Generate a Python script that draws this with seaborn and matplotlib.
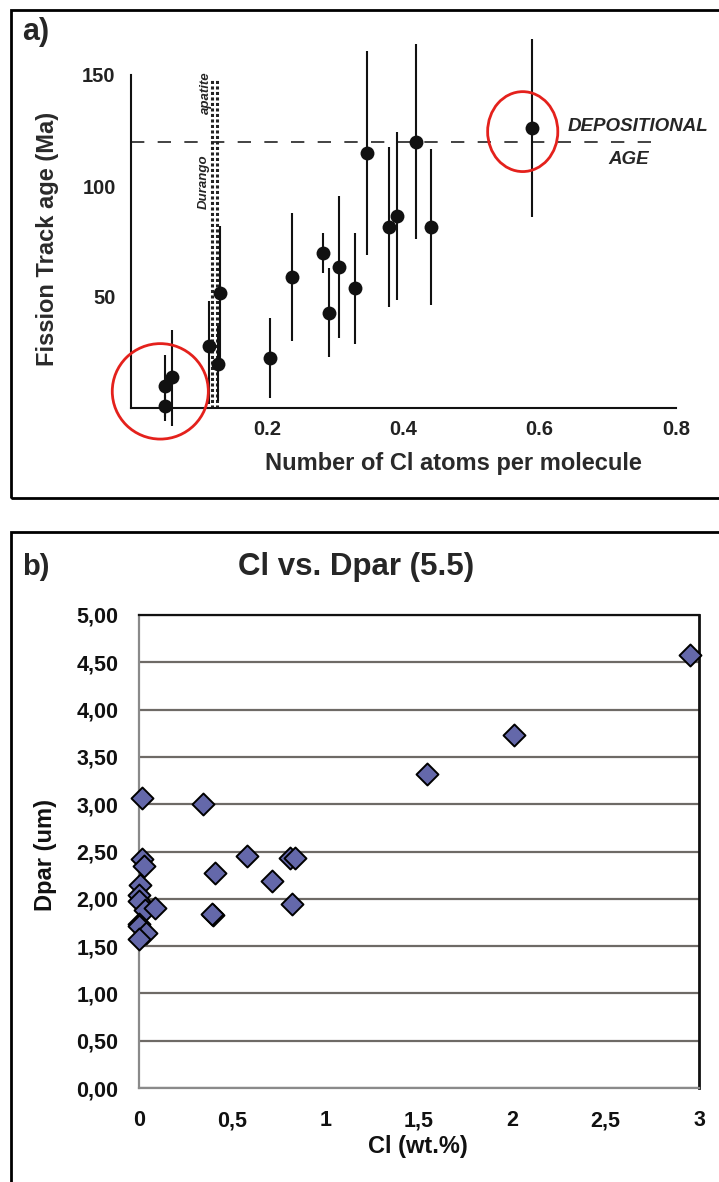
import numpy as np
import pandas as pd
import matplotlib
matplotlib.use("Agg")
import matplotlib.pyplot as plt
from matplotlib.patches import Ellipse, Rectangle
from matplotlib.ticker import FixedLocator, FuncFormatter
import seaborn as sns

# ---------------- data: panel a ----------------
cl_atoms = [0.050, 0.060, 0.050, 0.115, 0.131, 0.128, 0.204, 0.237, 0.282,
            0.290, 0.305, 0.329, 0.347, 0.378, 0.391, 0.419, 0.441, 0.588]
ft_age = [10, 14, 1, 28, 52, 20, 22.5, 59, 70,
          43, 63.5, 54, 115, 81.5, 86.5, 120, 81.5, 126]
age_err_low = [16, 22, 5, 26, 30, 17, 18, 29, 9,
               20, 32, 25, 46, 36, 38, 44, 35, 40]
age_err_high = [14, 21, 5, 20, 30, 17, 18, 29, 9,
                20, 32, 25, 46, 36, 38, 44, 35, 40]
depositional_age = 120
durango_cl = [0.119, 0.126]
a_xticks = [0.2, 0.4, 0.6, 0.8]
a_yticks = [50, 100, 150]

# ---------------- data: panel b ----------------
cl_wt = [0.014, 0.344, 0.014, 0.027, 0.407, 0.577, 0.809, 0.836, 0.711, 0.818,
         0.398, 0.389, 0.005, 0.002, 0.000, 0.032, 0.086, 0.000, 0.002, 0.037,
         0.000, 1.543, 2.009, 2.951]
dpar = [3.07, 3.00, 2.42, 2.35, 2.27, 2.45, 2.43, 2.43, 2.19, 1.95,
        1.83, 1.84, 2.15, 2.04, 1.98, 1.88, 1.90, 1.73, 1.71, 1.64,
        1.57, 3.32, 3.73, 4.58]
b_xticks = [0, 0.5, 1, 1.5, 2, 2.5, 3]
b_yticks = [0, 0.5, 1, 1.5, 2, 2.5, 3, 3.5, 4, 4.5, 5]

df_a = pd.DataFrame({"cl": cl_atoms, "age": ft_age})
df_b = pd.DataFrame({"cl": cl_wt, "dpar": dpar})

sns.set_style("white")
plt.rcParams["font.family"] = ["Liberation Sans", "DejaVu Sans"]

W, H = 719, 1182
fig = plt.figure(figsize=(W / 100, H / 100), dpi=100)

def fx(px):
    return px / W

def fy(py):
    return 1 - py / H

# panel frames
fig.patches.append(Rectangle((fx(11), fy(498)), fx(740) - fx(11), fy(10) - fy(498),
                             transform=fig.transFigure, fill=False, ec="black",
                             lw=2, zorder=0))
fig.patches.append(Rectangle((fx(11), fy(1200)), fx(740) - fx(11), fy(532) - fy(1200),
                             transform=fig.transFigure, fill=False, ec="black",
                             lw=2, zorder=0))

# ================= panel a =================
axA = fig.add_axes([fx(131), fy(408), (676 - 131) / W, (408 - 75) / H])
axA.set_xlim(0, 0.8)
axA.set_ylim(0, 150)
axA.errorbar(cl_atoms, ft_age, yerr=[age_err_low, age_err_high], fmt="none",
             ecolor="#111111", elinewidth=1.5, capsize=0, clip_on=False, zorder=2)
sns.scatterplot(data=df_a, x="cl", y="age", ax=axA, color="#111111", s=100,
                edgecolor="#111111", linewidth=0, clip_on=False, zorder=3, legend=False)
axA.plot([0, 0.775], [depositional_age, depositional_age], ls=(0, (8, 8)),
         color="#222222", lw=1.2, zorder=1)
axA.vlines(durango_cl, 0, 148, colors="#222222", linestyles=(0, (1, 0.8)), lw=2.2, zorder=1)
axA.text(0.107, 102, "Durango", rotation=90, ha="center", va="center",
         fontsize=9.5, fontstyle="italic", fontweight="bold")
axA.text(0.110, 142, "apatite", rotation=90, ha="center", va="center",
         fontsize=9.5, fontstyle="italic", fontweight="bold")
axA.text(0.744, 127, "DEPOSITIONAL", ha="center", va="center", fontsize=13.5,
         fontstyle="italic", fontweight="bold", clip_on=False)
axA.text(0.731, 112, "AGE", ha="center", va="center", fontsize=13.5,
         fontstyle="italic", fontweight="bold", clip_on=False)
axA.add_patch(Ellipse((0.043, 7.5), 0.141, 43, fill=False, ec="#E4211C", lw=2,
                      clip_on=False, zorder=4))
axA.add_patch(Ellipse((0.575, 124.5), 0.103, 36, fill=False, ec="#E4211C", lw=2,
                      clip_on=False, zorder=4))
for s in ["top", "right"]:
    axA.spines[s].set_visible(False)
for s in ["left", "bottom"]:
    axA.spines[s].set_color("#111111")
    axA.spines[s].set_linewidth(1.5)
axA.xaxis.set_major_locator(FixedLocator(a_xticks))
axA.xaxis.set_minor_locator(FixedLocator([0.1, 0.3, 0.5, 0.7]))
axA.yaxis.set_major_locator(FixedLocator(a_yticks))
axA.xaxis.set_major_formatter(FuncFormatter(lambda v, p: f"{v:.1f}"))
axA.yaxis.set_major_formatter(FuncFormatter(lambda v, p: f"{v:.0f}"))
axA.tick_params(axis="x", which="major", direction="in", length=12, width=1.4,
                labelsize=14.5, pad=9, colors="#222222")
axA.tick_params(axis="x", which="minor", direction="in", length=5, width=1.2,
                colors="#222222")
axA.tick_params(axis="y", which="major", direction="in", length=12, width=1.4,
                labelsize=14.5, pad=11, colors="#222222")
for lab in axA.get_xticklabels() + axA.get_yticklabels():
    lab.set_fontweight("bold")
axA.set_xlabel("Number of Cl atoms per molecule", fontsize=17, fontweight="bold",
               color="#2a2a2a")
axA.set_ylabel("Fission Track age (Ma)", fontsize=17, fontweight="bold",
               color="#2a2a2a")
axA.xaxis.set_label_coords((453 - 131) / 545, (408 - 464) / 333)
axA.xaxis.label.set_va("center")
axA.yaxis.set_label_coords((48 - 131) / 545, (408 - 239) / 333)
axA.yaxis.label.set_va("center")
axA.patch.set_alpha(0)
fig.text(fx(22), fy(32), "a)", fontsize=22, fontweight="bold", ha="left", va="center")

# ================= panel b =================
axB = fig.add_axes([fx(139), fy(1088), (699 - 139) / W, (1088 - 615) / H])
axB.set_xlim(0, 3)
axB.set_ylim(0, 5)
axB.set_axisbelow(True)
axB.yaxis.grid(True, color="#6e6a66", lw=1.6)
axB.xaxis.grid(False)
sns.scatterplot(data=df_b, x="cl", y="dpar", ax=axB, marker="D", s=125,
                color="#6468AA", edgecolor="black", linewidth=1.4,
                clip_on=False, zorder=3, legend=False)
axB.xaxis.set_major_locator(FixedLocator(b_xticks))
axB.yaxis.set_major_locator(FixedLocator(b_yticks))
axB.xaxis.set_major_formatter(FuncFormatter(lambda v, p: f"{v:g}".replace(".", ",")))
axB.yaxis.set_major_formatter(FuncFormatter(lambda v, p: f"{v:.2f}".replace(".", ",")))
axB.tick_params(axis="both", direction="out", length=6, width=1.3, color="#888888",
                labelsize=15.5, labelcolor="#111111")
axB.tick_params(axis="y", pad=9)
axB.tick_params(axis="x", pad=10)
for lab in axB.get_xticklabels() + axB.get_yticklabels():
    lab.set_fontweight("bold")
axB.spines["left"].set_color("#8a8a8a")
axB.spines["bottom"].set_color("#8a8a8a")
axB.spines["left"].set_linewidth(1.6)
axB.spines["bottom"].set_linewidth(1.6)
axB.spines["top"].set_color("#111111")
axB.spines["right"].set_color("#111111")
axB.spines["top"].set_linewidth(1.6)
axB.spines["right"].set_linewidth(2)
axB.set_xlabel("Cl (wt.%)", fontsize=17, fontweight="bold", color="#111111")
axB.set_ylabel("Dpar (um)", fontsize=17, fontweight="bold", color="#111111")
axB.xaxis.set_label_coords((418 - 139) / 560, (1088 - 1147) / 473)
axB.xaxis.label.set_va("center")
axB.yaxis.set_label_coords((45 - 139) / 560, (1088 - 855) / 473)
axB.yaxis.label.set_va("center")
fig.text(fx(356), fy(567), "Cl vs. Dpar (5.5)", fontsize=22.5, fontweight="bold",
         ha="center", va="center")
fig.text(fx(22), fy(567), "b)", fontsize=21, fontweight="bold", ha="left", va="center")

fig.savefig("out.png", dpi=100)
